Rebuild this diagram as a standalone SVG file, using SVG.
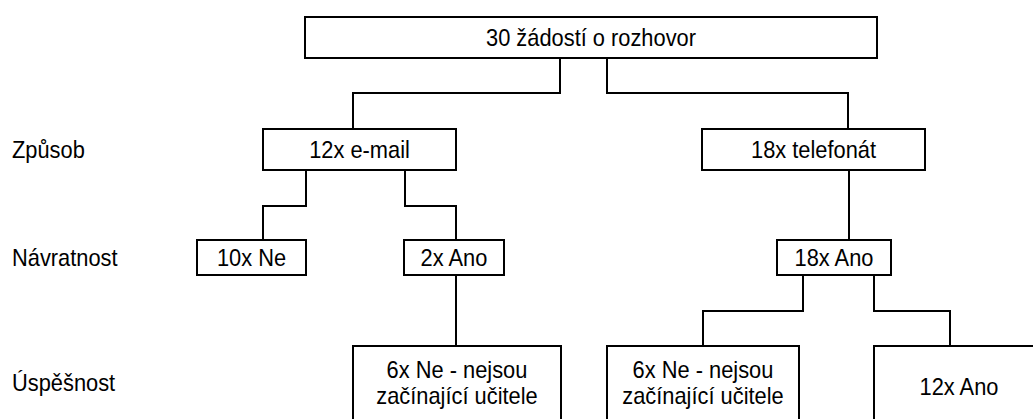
<svg xmlns="http://www.w3.org/2000/svg" width="1033" height="419" viewBox="0 0 1033 419">
<style>
.box{fill:#fff;stroke:#000;stroke-width:2}
.con{fill:none;stroke:#000;stroke-width:2}
text{font-family:"Liberation Sans",Arial,sans-serif;font-size:24px;fill:#000}
.c{text-anchor:middle}
.t2{font-size:23px}
</style>
<rect width="1033" height="419" fill="#fff"/>
<g id="connectors">
<path class="con" d="M560 58V93H353V129"/>
<path class="con" d="M607 58V93H848V129"/>
<path class="con" d="M306 170V206H263V240"/>
<path class="con" d="M405 170V206H456V240"/>
<path class="con" d="M456 275V346"/>
<path class="con" d="M849 170V240"/>
<path class="con" d="M803 275V311H703V346"/>
<path class="con" d="M874 275V311H950V346"/>
</g>
<g id="top"><rect class="box" x="305" y="17" width="572" height="41"/><text class="c" transform="translate(591 46) scale(0.91 1)">30 žádostí o rozhovor</text></g>
<g id="email"><rect class="box" x="263" y="129" width="193" height="41"/><text class="c" transform="translate(359.5 158) scale(0.91 1)">12x e-mail</text></g>
<g id="telefon"><rect class="box" x="702" y="129" width="223" height="41"/><text class="c" transform="translate(813.5 158) scale(0.91 1)">18x telefonát</text></g>
<g id="ne10"><rect class="box" x="197" y="240" width="109" height="35"/><text class="c" transform="translate(251.5 266) scale(0.91 1)">10x Ne</text></g>
<g id="ano2"><rect class="box" x="404" y="240" width="100" height="35"/><text class="c" transform="translate(454 266) scale(0.91 1)">2x Ano</text></g>
<g id="ano18"><rect class="box" x="777" y="240" width="114" height="35"/><text class="c" transform="translate(834 266) scale(0.91 1)">18x Ano</text></g>
<g id="ne6a"><rect class="box" x="353" y="346" width="208" height="80"/><text class="c t2" transform="translate(457 378) scale(0.95 1)">6x Ne - nejsou</text><text class="c t2" transform="translate(457 404) scale(0.95 1)">začínající učitele</text></g>
<g id="ne6b"><rect class="box" x="607" y="346" width="192" height="80"/><text class="c t2" transform="translate(703 378) scale(0.95 1)">6x Ne - nejsou</text><text class="c t2" transform="translate(703 404) scale(0.95 1)">začínající učitele</text></g>
<g id="ano12"><rect class="box" x="874" y="346" width="170" height="80"/><text class="c" transform="translate(959 395) scale(0.91 1)">12x Ano</text></g>
<g id="labels">
<text transform="translate(12 158) scale(0.91 1)">Způsob</text>
<text transform="translate(12 266) scale(0.91 1)">Návratnost</text>
<text transform="translate(12 391) scale(0.91 1)">Úspěšnost</text>
</g>
</svg>
